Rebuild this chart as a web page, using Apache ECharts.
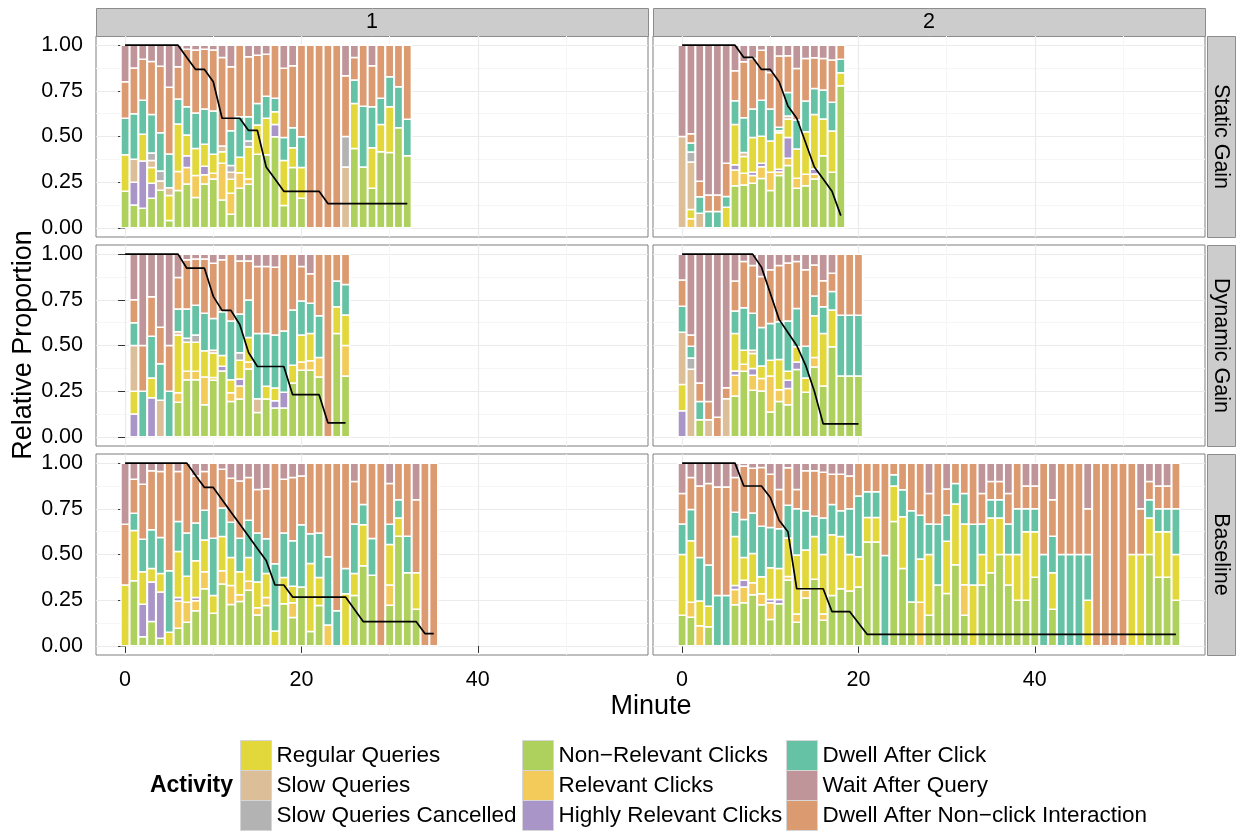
<!DOCTYPE html>
<html>
<head>
<meta charset="utf-8">
<script src="https://cdn.jsdelivr.net/npm/echarts@6/dist/echarts.min.js"></script>
<style>
html, body { margin: 0; padding: 0; background: #fff; }
#main { width: 1243px; height: 832px; }
</style>
</head>
<body>
<div id="main"></div>
<script>
// activity order as stacked from the bottom of each bar
var activities = ['Non\u2212Relevant Clicks', 'Relevant Clicks', 'Highly Relevant Clicks', 'Regular Queries',
    'Slow Queries', 'Slow Queries Cancelled', 'Dwell After Click', 'Dwell After Non\u2212click Interaction', 'Wait After Query'];
var colors = ['#aed05d', '#f2cb5b', '#a995c8', '#e2d83c', '#dcbf99', '#b3b3b3', '#66c2a4', '#dc9a70', '#c09599'];
var rowNames = ['Static Gain', 'Dynamic Gain', 'Baseline'];
var colNames = ['1', '2'];
var xTicks = [0, 20, 40];
var yTicks = [0, 0.25, 0.5, 0.75, 1];

// each bar: [NR, RC, HR, RQ, SQ, SC, DC, DN, WQ]
var staticGain1 = [
    [.2,0,0,.2,0,0,.2,.2,.2], [.125,0,.125,0,.125,0,.25,.25,.125], [.107,0,.259,.146,0,0,.187,.224,.077],
    [.162,0,.082,.086,.038,.042,.21,.29,.09], [.206,0,0,0,.051,.054,.21,.364,.115], [.04,0,0,.137,.043,0,.184,.365,.231],
    [.204,.104,0,.26,0,0,.137,.177,.118], [.24,.09,.065,.113,0,0,.155,.315,.022], [.166,.12,0,.149,0,0,.193,.345,.027],
    [.24,.05,.047,.12,0,0,.193,.328,.022], [.268,.031,0,.104,0,0,.236,.334,.027], [.153,.2,0,.064,.031,0,0,.485,.067],
    [.075,.114,0,.077,.038,.037,.191,.35,.118], [.217,.085,0,.084,0,0,.222,.392,0], [.239,.029,0,.176,0,.031,.133,.328,.064],
    [.403,0,0,.16,0,0,.118,.264,.055], [.4,0,0,.2,0,0,.12,.23,.05], [.499,0,.067,.07,0,0,.073,.291,0],
    [.122,0,0,.246,0,0,.126,.379,.127], [.33,0,0,.109,0,0,.109,.339,.113], [.162,0,0,.168,0,0,.169,.501,0],
    [0,0,0,0,0,0,0,1,0], [0,0,0,0,0,0,0,1,0], [0,0,0,0,0,0,0,1,0], [0,0,0,0,0,0,0,1,0],
    [0,0,0,0,.333,.167,0,.333,.167], [.435,0,0,.246,0,0,.128,.124,.067], [.333,0,0,0,0,0,.333,.334,0],
    [.217,0,0,.222,0,0,.224,.224,.113], [.417,0,0,.149,0,0,.143,.291,0], [.412,0,0,.251,0,0,.164,.173,0],
    [.548,0,0,0,0,0,.224,.228,0], [.395,0,0,0,0,0,.199,.406,0]
];
var staticGain2 = [
    [0,0,0,0,.5,0,0,0,.5], [0,.05,0,.05,.26,.055,.05,.05,.485], [0,0,0,0,.08,0,.09,.085,.745],
    [0,0,0,0,0,0,.09,.09,.82], [0,0,0,0,0,0,.09,.09,.82], [0,0,0,.113,0,0,.058,.182,.647],
    [.23,.086,.03,.22,0,0,.13,.164,.14], [.235,.064,0,.091,.023,0,.19,.306,.091], [.244,.042,.018,.19,0,0,.156,.277,.073],
    [.27,.064,.02,.148,0,0,.197,.273,.028], [.204,.1,0,.171,0,0,.175,.2,.15], [.286,.02,.015,.2,.01,0,.02,.39,.059],
    [.341,.04,.113,.102,.016,0,.129,.201,.058], [.217,.054,0,.161,0,0,.158,.282,.128], [.231,.062,0,.233,0,0,.168,.233,.073],
    [.268,.027,.027,.299,0,0,.142,.168,.069], [.395,0,0,.201,0,0,.158,.173,.073], [.304,0,0,.226,0,0,.157,.231,.082],
    [.778,0,0,.071,0,0,.074,.077,0]
];
var dynamicGain1 = [
    [0,0,.125,.125,.25,0,.125,.125,.25], [0,0,0,0,0,0,.25,.25,.5], [0,0,.214,.108,0,0,.229,.216,.233],
    [0,0,0,0,.2,0,.2,.2,.4], [0,0,0,0,0,0,.25,.25,.5], [.19,.052,0,.315,.018,0,.125,.172,.128],
    [.313,.046,0,.159,0,.022,.16,.269,.031], [.313,.046,0,.159,0,.04,.162,.254,.026], [.176,.152,0,.143,0,0,.205,.298,.026],
    [.31,.015,0,.134,.015,0,.174,.302,.05], [.361,0,.025,.059,0,0,.24,.284,.031], [.194,.048,0,.071,0,0,.321,.366,0],
    [.207,.071,.039,.102,0,.041,.212,.291,.037], [.372,.038,0,.134,0,0,.205,.214,.037], [.134,0,0,0,.075,0,.357,.366,.068],
    [.207,0,0,.07,0,0,.289,.366,.068], [.158,0,.04,.07,0,0,.29,.37,.072], [.158,0,.086,0,0,0,.335,.421,0],
    [.295,0,0,.097,0,0,.302,.306,0], [.364,.046,0,.147,0,0,.187,.188,.068], [.364,.052,0,.15,0,0,.165,.161,.108],
    [.328,.106,0,0,0,0,.229,.337,0], [0,0,0,0,0,0,0,1,0], [.566,0,0,.146,0,0,.141,.147,0],
    [.333,.167,0,.167,0,0,.167,.166,0]
];
var dynamicGain2 = [
    [0,0,.143,.143,.286,0,.143,.143,.142], [0,0,0,0,.37,.062,.064,.061,.443], [.093,0,0,0,0,0,.101,.101,.705],
    [0,0,0,0,.093,0,0,.1,.807], [0,0,0,0,0,0,0,.108,.892], [0,0,0,0,.209,0,0,.06,.731],
    [.223,.114,.024,.205,0,0,.123,.164,.147], [.359,.038,0,.077,0,0,.233,.253,.04], [.255,.082,.037,.082,.018,0,.202,.262,.062],
    [.251,.068,0,.069,0,0,.211,.278,.123], [.136,.197,0,.086,0,0,.202,.293,.086], [.194,.064,0,.165,0,0,.207,.308,.062],
    [.176,.088,.046,.049,0,0,.275,.317,.049], [.368,0,.042,.083,0,0,.21,.257,.04], [.244,0,0,.078,0,0,.174,.418,.086],
    [.383,.051,0,.229,0,0,.108,.17,.059], [.278,0,0,.288,0,0,.146,.143,.145], [.493,0,0,.201,0,0,.101,.101,.104],
    [.333,0,0,0,0,0,.333,.334,0], [.333,0,0,0,0,0,.333,.334,0], [.333,0,0,0,0,0,.333,.334,0]
];
var baseline1 = [
    [0,0,0,.333,0,0,0,.333,.334], [.357,0,0,.275,0,0,.094,.186,.088], [.05,0,.178,.177,0,0,.179,.3,.116],
    [.133,0,.217,.074,0,0,.211,.323,.042], [.041,0,.254,.101,0,0,.197,.361,.046], [0,0,0,.074,0,0,.337,.589,0],
    [.096,.149,.02,.251,0,0,.165,.273,.046], [.129,.11,0,.142,0,0,.236,.383,0], [.192,.055,.018,.201,0,0,.206,.258,.07],
    [.313,.092,0,.175,0,0,.162,.212,.046], [.179,0,0,.097,0,0,.313,.411,0], [.339,.072,0,.188,0,0,.156,.212,.033],
    [.227,.104,0,.152,0,0,.193,.241,.083], [.243,.037,0,.125,0,0,.184,.313,.098], [.304,.05,0,.129,0,0,.204,.234,.079],
    [.169,.039,0,.142,0,0,.267,.239,.144], [.221,.044,0,.131,0,0,.19,.274,.14], [0,0,0,.081,0,0,.368,.551,0],
    [.23,0,0,.144,0,0,.243,.295,.088], [.155,.081,0,.09,0,0,.249,.346,.079], [.322,0,0,0,0,0,.341,.267,.07],
    [.079,0,0,.372,0,0,.162,.387,0], [.221,0,0,.153,0,0,.243,.383,0], [0,.114,0,0,0,0,.374,.512,0],
    [0,0,0,0,0,0,.192,.808,0], [0,0,0,.285,0,0,.139,.576,0], [.276,0,0,.12,0,0,.271,.232,.101],
    [.438,0,0,.225,0,0,.11,.227,0], [.387,0,0,0,0,0,.2,.413,0], [0,0,0,0,0,0,0,1,0],
    [.222,.111,0,.222,0,0,.111,.222,.112], [.6,0,0,.1,0,0,.1,.2,0], [.4,0,0,0,0,0,.2,.4,0],
    [.2,0,0,.2,0,0,0,.4,.2], [0,0,0,0,0,0,0,1,0], [0,0,0,0,0,0,0,1,0]
];
var baseline2 = [
    [.167,0,0,.333,0,0,.167,.167,.166], [.157,.082,0,.336,0,0,.171,.175,.079], [0,.11,0,.135,0,0,.238,.392,.125],
    [.105,0,0,.112,0,0,.225,.447,.111], [0,0,0,0,0,0,.276,.594,.13], [0,0,0,0,0,0,.276,.594,.13],
    [.225,.084,.022,.268,0,0,.132,.19,.079], [.236,.086,.037,.124,0,0,.208,.294,.015], [.28,.066,0,.16,0,0,.221,.245,.028],
    [.225,.06,0,.093,0,0,.276,.322,.024], [.144,.092,.018,.173,0,0,.221,.291,.061], [.23,0,.024,.17,0,0,.217,.215,.144],
    [.36,.02,0,.21,0,0,.18,.205,.025], [.129,.046,0,.322,0,0,.254,.105,.144], [.262,.042,0,.221,0,0,.215,.218,.042],
    [.365,0,0,.234,0,0,.11,.249,.042], [.14,.035,0,.325,0,0,.2,.25,.05], [.276,0,0,.332,0,0,.165,.166,.061],
    [.313,0,0,.286,0,0,.141,.199,.061], [.3,0,0,.2,0,0,.25,.18,.07], [.322,0,0,.166,0,0,.332,.18,0],
    [.568,0,0,.135,0,0,.14,.157,0], [.568,0,0,.135,0,0,.14,.157,0], [0,0,0,0,0,0,.494,.506,0],
    [.681,0,0,.194,0,0,.061,.064,0], [.424,0,0,.283,0,0,.147,.146,0], [.24,0,0,0,0,0,.5,.26,0],
    [0,.239,0,.236,0,0,.24,.285,0], [.167,0,0,.333,0,0,.167,.167,.166], [.333,0,0,0,0,0,.333,.334,0],
    [.286,0,0,.286,0,0,.143,.143,.142], [.444,0,0,.333,0,0,.111,.112,0], [.167,.167,0,.333,0,0,.167,.166,0],
    [0,0,0,.333,0,0,.333,.334,0], [.333,0,0,.167,0,0,.167,.167,.166], [.4,0,0,.3,0,0,.1,.1,.1],
    [.5,0,0,.2,0,0,.1,.1,.1], [.333,0,0,.167,0,0,.167,.167,.166], [.25,0,0,.25,0,0,.25,.25,0],
    [.25,0,0,.375,0,0,.125,.125,.125], [.375,0,0,.25,0,0,.125,.125,.125], [0,0,0,0,0,0,.5,.5,0],
    [.2,0,0,.2,0,0,.2,.2,.2], [0,0,0,0,0,0,.5,.5,0], [0,0,0,0,0,0,.5,.5,0],
    [0,0,0,0,0,0,.5,.5,0], [0,0,0,.25,0,0,.25,.25,.25], [0,0,0,0,0,0,0,1,0],
    [0,0,0,0,0,0,0,1,0], [0,0,0,0,0,0,0,1,0], [0,0,0,0,0,0,0,1,0],
    [0,0,0,.5,0,0,0,.5,0], [0,0,0,.5,0,0,0,.25,.25], [.5,0,0,.2,0,0,.1,.1,.1],
    [.375,0,0,.25,0,0,.125,.125,.125], [.375,0,0,.25,0,0,.125,.125,.125], [.25,0,0,.25,0,0,.25,.25,0]
];

// share of users still active, one value per minute from 0
var staticGain1Line = [1,1,1,1,1,1,1,.933,.867,.867,.8,.6,.6,.6,.533,.533,.333,.267,.2,.2,.2,.2,.2,
    .133,.133,.133,.133,.133,.133,.133,.133,.133,.133];
var staticGain2Line = [1,1,1,1,1,1,1,.933,.933,.867,.867,.8,.667,.6,.467,.333,.267,.2,.067];
var dynamicGain1Line = [1,1,1,1,1,1,1,.923,.923,.923,.769,.692,.692,.615,.462,.385,.385,.385,.385,
    .231,.231,.231,.231,.077,.077,.077];
var dynamicGain2Line = [1,1,1,1,1,1,1,1,1,.929,.786,.643,.571,.5,.393,.25,.071,.071,.071,.071,.071];
var baseline1Line = [1,1,1,1,1,1,1,1,.933,.867,.867,.8,.733,.667,.6,.533,.467,.333,.333,
    .267,.267,.267,.267,.267,.267,.267,.2,.133,.133,.133,.133,.133,.133,.133,.067,.067];
var baseline2Line = [1,1,1,1,1,1,1,.875,.875,.875,.8125,.6875,.625,.3125,.3125,.3125,.3125,.1875,.1875,.1875,.125,
    .0625,.0625,.0625,.0625,.0625,.0625,.0625,.0625,.0625,.0625,.0625,.0625,.0625,.0625,.0625,.0625,.0625,.0625,
    .0625,.0625,.0625,.0625,.0625,.0625,.0625,.0625,.0625,.0625,.0625,.0625,.0625,.0625,.0625,.0625,.0625,.0625];

// first minute that has a bar in each panel
var firstMinute = [0, 0, 1, 0, 0, 0];

var panels = [
    { bars: staticGain1, line: staticGain1Line },
    { bars: staticGain2, line: staticGain2Line },
    { bars: dynamicGain1, line: dynamicGain1Line },
    { bars: dynamicGain2, line: dynamicGain2Line },
    { bars: baseline1, line: baseline1Line },
    { bars: baseline2, line: baseline2Line }
];

var FONT = '"Liberation Sans", Arial, Helvetica, sans-serif';
var colLeft = [96, 653], panelW = 552;
var rowTop = [36, 245, 454], panelH = 201;

var myChart = echarts.init(document.getElementById('main'));

// one stacked segment: [minute, bottom, top]
function renderSegment(params, api) {
    var base = api.coord([api.value(0), api.value(1)]);
    var top = api.coord([api.value(0), api.value(2)]);
    var w = api.size([0.93, 0])[0];
    return {
        type: 'rect',
        shape: { x: base[0] - w / 2, y: top[1], width: w, height: base[1] - top[1] },
        style: { fill: api.visual('color'), stroke: '#fff', lineWidth: 1.5 }
    };
}

var grids = [], xAxes = [], yAxes = [], series = [];

panels.forEach(function (p, i) {
    var r = Math.floor(i / 2), c = i % 2;
    grids.push({
        left: colLeft[c], top: rowTop[r], width: panelW, height: panelH,
        show: true, borderColor: '#7f7f7f', borderWidth: 1, backgroundColor: '#fff'
    });
    xAxes.push({
        type: 'value', gridIndex: i, min: -3.3, max: 59.3,
        axisLine: { show: false },
        axisTick: { show: r === 2, customValues: xTicks, length: 7, lineStyle: { color: '#333' } },
        axisLabel: { show: r === 2, customValues: xTicks, fontSize: 21.5, color: '#000', margin: 14, fontFamily: FONT },
        splitLine: { show: true, lineStyle: { color: '#ebebeb', width: 1.2 } }
    });
    yAxes.push({
        type: 'value', gridIndex: i, min: -0.05, max: 1.05,
        axisLine: { show: false },
        axisTick: { show: c === 0, customValues: yTicks, length: 7, lineStyle: { color: '#333' } },
        axisLabel: {
            show: c === 0, customValues: yTicks, fontSize: 21.5, color: '#000', margin: 13, fontFamily: FONT,
            formatter: function (v) { return v.toFixed(2); }
        },
        splitLine: { show: true, lineStyle: { color: '#ebebeb', width: 1.2 } }
    });

    // running top of each bar while stacking
    var level = p.bars.map(function () { return 0; });
    activities.forEach(function (name, k) {
        var data = [];
        p.bars.forEach(function (b, j) {
            var tot = b.reduce(function (a, v) { return a + v; }, 0);
            var h = b[k] / tot;
            if (h > 0) data.push([firstMinute[i] + j, level[j], level[j] + h]);
            level[j] += h;
        });
        series.push({
            name: name, type: 'custom', renderItem: renderSegment,
            xAxisIndex: i, yAxisIndex: i, silent: true, clip: false,
            encode: { x: 0, y: [1, 2] },
            itemStyle: { color: colors[k] },
            data: data
        });
    });
    series.push({
        type: 'line', xAxisIndex: i, yAxisIndex: i, z: 4, silent: true,
        showSymbol: false, lineStyle: { color: '#000', width: 1.7 },
        data: p.line.map(function (v, j) { return [j, v]; })
    });
});

// faint minor grid lines
panels.forEach(function (p, i) {
    xAxes.push({
        type: 'value', gridIndex: i, min: -3.3, max: 59.3,
        axisLine: { show: false }, axisLabel: { show: false },
        axisTick: { show: false, customValues: [10, 30, 50] },
        splitLine: { show: true, lineStyle: { color: '#f6f6f6', width: 1 } }
    });
    yAxes.push({
        type: 'value', gridIndex: i, min: -0.05, max: 1.05,
        axisLine: { show: false }, axisLabel: { show: false },
        axisTick: { show: false, customValues: [0.125, 0.375, 0.625, 0.875] },
        splitLine: { show: true, lineStyle: { color: '#f6f6f6', width: 1 } }
    });
});

var graphics = [];
colNames.forEach(function (t, c) {
    graphics.push({
        type: 'rect', left: colLeft[c], top: 8,
        shape: { width: panelW, height: 28 },
        style: { fill: '#cccccc', stroke: '#8c8c8c', lineWidth: 1 }
    });
    graphics.push({
        type: 'text', x: colLeft[c] + panelW / 2, y: 22,
        style: { text: t, fontSize: 21.5, fontFamily: FONT, fill: '#000', align: 'center', verticalAlign: 'middle' }
    });
});
rowNames.forEach(function (t, r) {
    graphics.push({
        type: 'rect', left: 1207, top: rowTop[r],
        shape: { width: 28, height: panelH },
        style: { fill: '#cccccc', stroke: '#8c8c8c', lineWidth: 1 }
    });
    graphics.push({
        type: 'text', x: 1221, y: rowTop[r] + panelH / 2, rotation: -Math.PI / 2,
        style: { text: t, fontSize: 21.5, fontFamily: FONT, fill: '#000', align: 'center', verticalAlign: 'middle' }
    });
});
graphics.push({
    type: 'text', x: 651, y: 707,
    style: { text: 'Minute', fontSize: 27, fontFamily: FONT, fill: '#000', align: 'center', verticalAlign: 'middle' }
});
graphics.push({
    type: 'text', x: 24, y: 345, rotation: Math.PI / 2,
    style: { text: 'Relative Proportion', fontSize: 27, fontFamily: FONT, fill: '#000', align: 'center', verticalAlign: 'middle' }
});
graphics.push({
    type: 'text', x: 233, y: 786,
    style: { text: 'Activity', fontSize: 23, fontWeight: 'bold', fontFamily: FONT, fill: '#000', align: 'right', verticalAlign: 'middle' }
});

// legend: three columns of three keys, one legend component per key
var legendOrder = [[3, 4, 5], [0, 1, 2], [6, 8, 7]];
var legendLeft = [240, 522, 786];
var legends = [];
legendOrder.forEach(function (col, c) {
    col.forEach(function (k, r) {
        legends.push({
            data: [activities[k]], orient: 'vertical', left: legendLeft[c], top: 740 + r * 30, padding: 0,
            itemWidth: 31, itemHeight: 30, icon: 'rect', selectedMode: false,
            itemStyle: { color: colors[k], borderColor: '#d6d6d6', borderWidth: 1 },
            textStyle: { fontSize: 22.5, color: '#000', fontFamily: FONT }
        });
    });
});

myChart.setOption({
    animation: false,
    textStyle: { fontFamily: FONT },
    grid: grids,
    xAxis: xAxes,
    yAxis: yAxes,
    legend: legends,
    graphic: graphics,
    series: series
});
</script>
</body>
</html>
